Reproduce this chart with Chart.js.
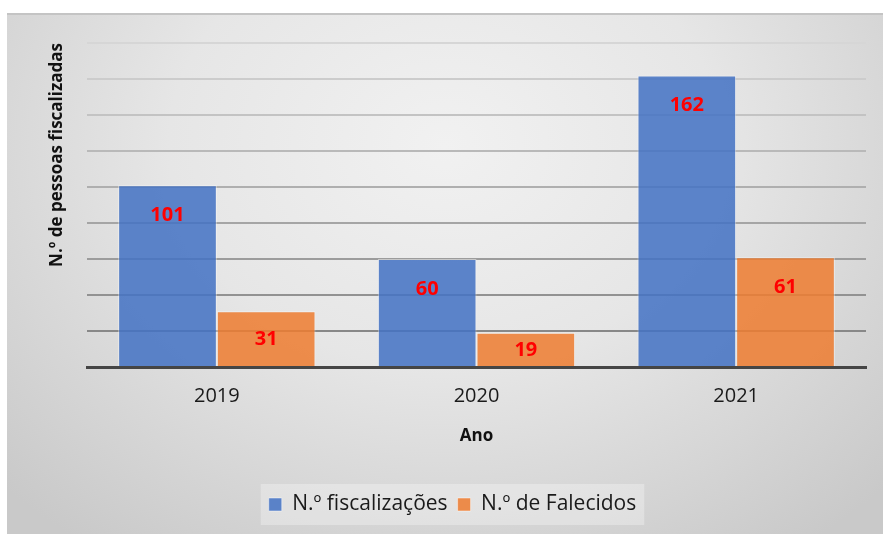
<!DOCTYPE html>
<html>
<head>
<meta charset="utf-8">
<script src="https://cdn.jsdelivr.net/npm/chart.js@4/dist/chart.umd.min.js"></script>
<style>
  html, body { margin: 0; padding: 0; background: #fff; }
  .chart-container {
    position: absolute; left: 7px; top: 13px; width: 876px; height: 521px;
    border-top: 2px solid #c4c4c4; box-sizing: border-box;
    background: radial-gradient(ellipse 70% 95% at 50% 25%, #f1f1f1 0%, #e6e6e6 45%, #c9c9c9 100%);
  }
  canvas { display: block; }
</style>
</head>
<body>
<div class="chart-container"><canvas id="fiscChart" width="876" height="519"></canvas></div>
<script>
const anos = ['2019', '2020', '2021'];
const fiscalizacoes = [101, 60, 162];
const falecidos = [31, 19, 61];
const yTicks = { min: 0, max: 180, step: 20 };

const fontFamily = "'Open Sans', 'Noto Sans', sans-serif";

// caixa clara por trás da legenda
const legendBox = {
  id: 'legendBox',
  beforeDraw(chart) {
    const boxes = chart.legend && chart.legend.legendHitBoxes;
    if (!boxes || !boxes.length) return;
    const left = Math.min(...boxes.map(b => b.left)) - 8;
    const right = Math.max(...boxes.map(b => b.left + b.width)) + 8;
    const top = Math.min(...boxes.map(b => b.top)) - 10;
    const bottom = Math.max(...boxes.map(b => b.top + b.height)) + 10;
    const ctx = chart.ctx;
    ctx.save();
    ctx.fillStyle = 'rgba(255,255,255,0.3)';
    ctx.fillRect(left, top, right - left, bottom - top);
    ctx.restore();
  }
};

// rótulos vermelhos dentro das barras
const barLabels = {
  id: 'barLabels',
  afterDatasetsDraw(chart) {
    const ctx = chart.ctx;
    ctx.save();
    ctx.fillStyle = '#ff0000';
    ctx.font = 'bold 20px ' + fontFamily;
    ctx.textAlign = 'center';
    ctx.textBaseline = 'middle';
    chart.data.datasets.forEach((ds, i) => {
      chart.getDatasetMeta(i).data.forEach((bar, j) => {
        const y = Math.min(bar.y + 30, (bar.y + bar.base) / 2 + 1);
        ctx.fillText(String(ds.data[j]), bar.x, y);
      });
    });
    ctx.restore();
  }
};

const gridShade = (v) => {
  const t = (v - yTicks.step) / (yTicks.max - yTicks.step);
  const g = Math.round(0x88 + (0xd6 - 0x88) * t);
  return `rgb(${g},${g},${g})`;
};

new Chart(document.getElementById('fiscChart'), {
  type: 'bar',
  data: {
    labels: anos,
    datasets: [
      {
        label: 'N.º fiscalizações',
        data: fiscalizacoes,
        backgroundColor: 'rgba(68,114,196,0.86)',
        borderColor: 'rgba(255,255,255,0.45)',
        borderWidth: 1
      },
      {
        label: 'N.º de Falecidos',
        data: falecidos,
        backgroundColor: 'rgba(237,125,49,0.86)',
        borderColor: 'rgba(255,255,255,0.45)',
        borderWidth: 1
      }
    ]
  },
  options: {
    responsive: false,
    animation: false,
    layout: { padding: { top: 28, right: 17, left: 32, bottom: 9 } },
    datasets: { bar: { categoryPercentage: 0.76, barPercentage: 1 } },
    plugins: {
      tooltip: { enabled: false },
      legend: {
        position: 'bottom',
        labels: {
          color: '#1a1a1a',
          font: { family: fontFamily, size: 21 },
          boxWidth: 13,
          boxHeight: 13,
          padding: 10
        }
      }
    },
    scales: {
      x: {
        grid: { display: false, drawTicks: false },
        border: { display: true, color: '#454545', width: 3 },
        ticks: { color: '#1a1a1a', font: { family: fontFamily, size: 20 }, padding: 17 },
        title: {
          display: true,
          text: 'Ano',
          color: '#111',
          font: { family: fontFamily, size: 17, weight: 'bold' },
          padding: { top: 4, bottom: 38 }
        },
        afterFit(scale) { scale.height = 117; }
      },
      y: {
        min: yTicks.min,
        max: yTicks.max,
        ticks: { display: false, stepSize: yTicks.step },
        grid: {
          drawTicks: false,
          lineWidth: 2,
          color: (c) => (c.tick && c.tick.value === 0) ? 'rgba(0,0,0,0)' : gridShade(c.tick ? c.tick.value : 100)
        },
        border: { display: false },
        title: {
          display: true,
          text: 'N.º de pessoas fiscalizadas',
          align: 'end',
          color: '#111',
          font: { family: fontFamily, size: 17, weight: 'bold' },
          padding: { top: 8, bottom: 0 }
        },
        afterFit(scale) { scale.width = 48; }
      }
    }
  },
  plugins: [legendBox, barLabels]
});
</script>
</body>
</html>
